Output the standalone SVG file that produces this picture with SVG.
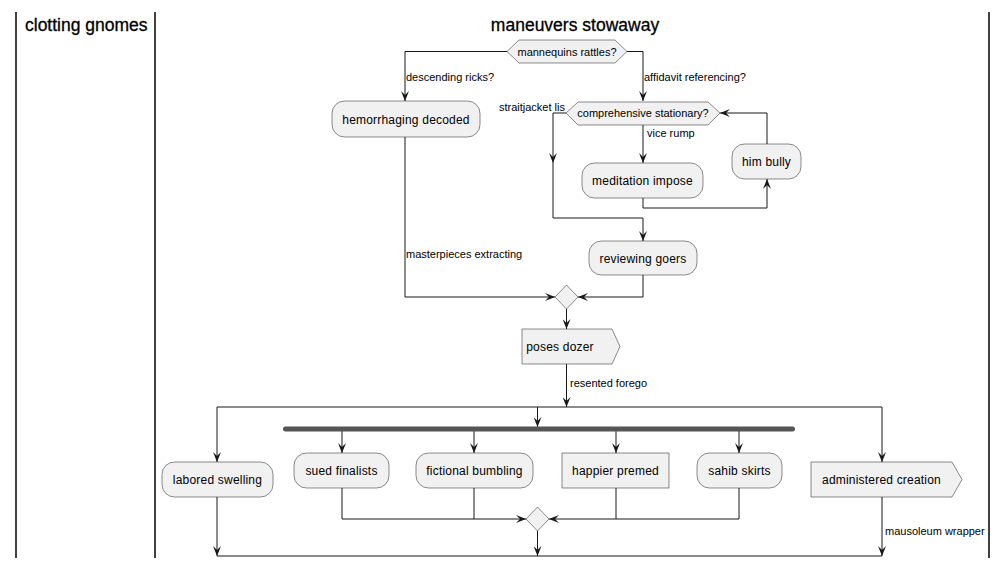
<svg xmlns="http://www.w3.org/2000/svg" width="1008" height="569" viewBox="0 0 1008 569">
<defs>
<marker id="ah" viewBox="0 0 10 8" refX="10" refY="4" markerWidth="10" markerHeight="8" markerUnits="userSpaceOnUse" orient="auto">
<path d="M0,0 L10,4 L0,8 L4,4 Z" fill="#181818"/>
</marker>
<style>
.lane{stroke:#000;stroke-width:1.5;fill:none}
.hdr{font-family:"Liberation Sans",Arial,sans-serif;font-size:17.5px;fill:#000;stroke:#000;stroke-width:0.3}
.node{fill:#F1F1F1;stroke:#181818;stroke-width:0.5}
.t{font-family:"Liberation Sans",Arial,sans-serif;font-size:12px;fill:#000;text-anchor:middle;letter-spacing:0.2px}
.ts{font-family:"Liberation Sans",Arial,sans-serif;font-size:11px;fill:#000;text-anchor:middle}
.lbl{font-family:"Liberation Sans",Arial,sans-serif;font-size:11px;fill:#000}
.c{stroke:#181818;stroke-width:1;fill:none}
.ca{stroke:#181818;stroke-width:1;fill:none;marker-end:url(#ah)}
</style>
</defs>
<rect width="1008" height="569" fill="#fff"/>
<g id="lanes">
<line class="lane" x1="16" y1="12" x2="16" y2="558"/>
<line class="lane" x1="155" y1="12" x2="155" y2="558"/>
<line class="lane" x1="989" y1="12" x2="989" y2="558"/>
<text class="hdr" x="25" y="31">clotting gnomes</text>
<text class="hdr" x="575" y="31" text-anchor="middle">maneuvers stowaway</text>
</g>
<g id="connectors">
<path class="ca" d="M507,51.5 H405 V101"/>
<path class="ca" d="M627,51.5 H643 V101"/>
<path class="ca" d="M405,137 V297 H555"/>
<path class="ca" d="M566,113 H553 V163"/>
<path class="ca" d="M553,163 V218 H643 V241"/>
<path class="ca" d="M643,125 V163"/>
<path class="ca" d="M643,198 V208 H767 V179"/>
<path class="ca" d="M767,144 V113 H720"/>
<path class="ca" d="M643,275 V297 H578"/>
<path class="ca" d="M566.5,309 V329"/>
<path class="ca" d="M566.5,364 V407"/>
<path class="c" d="M217,407 H882"/>
<path class="ca" d="M217,407 V462"/>
<path class="ca" d="M537.5,407 V427"/>
<path class="ca" d="M882,407 V462"/>
<path class="ca" d="M342,431 V453"/>
<path class="ca" d="M474,431 V453"/>
<path class="ca" d="M616,431 V453"/>
<path class="ca" d="M739,431 V453"/>
<path class="ca" d="M342,488 V519 H526"/>
<path class="c" d="M474,488 V519"/>
<path class="ca" d="M739,488 V519 H549"/>
<path class="c" d="M616,488 V519"/>
<path class="ca" d="M537.5,531 V556"/>
<path class="ca" d="M217,497 V556"/>
<path class="ca" d="M882,497 V556"/>
<path class="c" d="M217,556 H882"/>
<text class="lbl" x="406" y="81">descending ricks?</text>
<text class="lbl" x="644" y="81">affidavit referencing?</text>
<text class="lbl" x="565" y="111" text-anchor="end">straitjacket lis</text>
<text class="lbl" x="647" y="137">vice rump</text>
<text class="lbl" x="406" y="258">masterpieces extracting</text>
<text class="lbl" x="570" y="387">resented forego</text>
<text class="lbl" x="885" y="535">mausoleum wrapper</text>
</g>
<g id="d1">
<polygon class="node" points="507,51.5 519,40 615,40 627,51.5 615,63 519,63"/>
<text class="ts" x="567" y="55.5">mannequins rattles?</text>
</g>
<g id="n-hemorrhaging">
<rect class="node" x="332" y="101" width="148" height="36" rx="12.5"/>
<text class="t" x="406" y="123.5">hemorrhaging decoded</text>
</g>
<g id="d2">
<polygon class="node" points="566,113 578,102 708,102 720,113 708,125 578,125"/>
<text class="ts" x="643" y="117">comprehensive stationary?</text>
</g>
<g id="n-meditation">
<rect class="node" x="582" y="163" width="121" height="35" rx="12.5"/>
<text class="t" x="642.5" y="185">meditation impose</text>
</g>
<g id="n-himbully">
<rect class="node" x="732" y="144" width="69" height="35" rx="12.5"/>
<text class="t" x="766.5" y="166">him bully</text>
</g>
<g id="n-reviewing">
<rect class="node" x="589" y="241" width="108" height="34" rx="12.5"/>
<text class="t" x="643" y="262.5">reviewing goers</text>
</g>
<g id="m1">
<polygon class="node" points="566.5,285 578,297 566.5,309 555,297"/>
</g>
<g id="n-poses">
<polygon class="node" points="522,329 612,329 620,346.5 612,364 522,364"/>
<text class="t" x="560" y="351">poses dozer</text>
</g>
<g id="forkbar">
<rect x="283" y="426.5" width="512" height="5" rx="2.5" fill="#555555"/>
</g>
<g id="n-labored">
<rect class="node" x="162" y="462" width="111" height="35" rx="12.5"/>
<text class="t" x="217.5" y="484">labored swelling</text>
</g>
<g id="n-sued">
<rect class="node" x="294" y="453" width="95" height="35" rx="12.5"/>
<text class="t" x="341.5" y="475">sued finalists</text>
</g>
<g id="n-fictional">
<rect class="node" x="416" y="453" width="117" height="35" rx="12.5"/>
<text class="t" x="474.5" y="475">fictional bumbling</text>
</g>
<g id="n-happier">
<rect class="node" x="562" y="453" width="107" height="35"/>
<text class="t" x="615.5" y="475">happier premed</text>
</g>
<g id="n-sahib">
<rect class="node" x="697" y="453" width="85" height="35" rx="12.5"/>
<text class="t" x="739.5" y="475">sahib skirts</text>
</g>
<g id="n-administered">
<polygon class="node" points="811,462 952,462 962,479.5 952,497 811,497"/>
<text class="t" x="881.5" y="484">administered creation</text>
</g>
<g id="m2">
<polygon class="node" points="537.5,507 549,519 537.5,531 526,519"/>
</g>
</svg>
